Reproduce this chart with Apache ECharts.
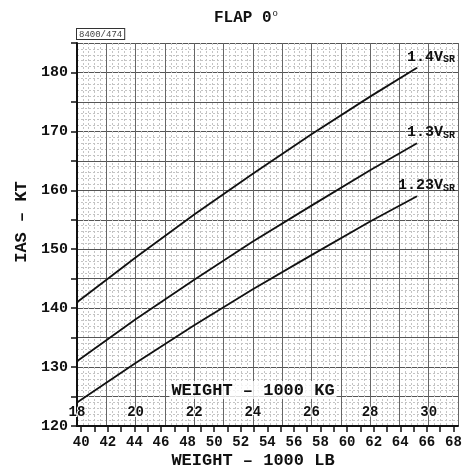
<!DOCTYPE html>
<html><head><meta charset="utf-8">
<script src="https://cdn.jsdelivr.net/npm/echarts@6/dist/echarts.min.js"></script>
<style>html,body{margin:0;padding:0;background:#fff}#c{width:465px;height:468px}</style>
</head><body><div id="c"></div>
<script>
// weight in 1000 kg
const weightKg = [18, 20, 22, 24, 26, 28, 29.6];
// IAS (kt) for each speed schedule
const ias14 = [141, 148.6, 155.9, 162.8, 169.5, 175.9, 180.8];
const ias13 = [131, 138.1, 144.8, 151.3, 157.4, 163.4, 168.0];
const ias123 = [124, 130.7, 137.1, 143.2, 149.0, 154.7, 159.0];
const seriesNames = ['1.4', '1.3', '1.23'];
const lbTicks = [40,41,42,43,44,45,46,47,48,49,50,51,52,53,54,55,56,57,58,59,60,61,62,63,64,65,66,67,68];
const lbLabels = [40,42,44,46,48,50,52,54,56,58,60,62,64,66,68];
const kgMin = 18, kgMax = 31, ktMin = 120, ktMax = 185;
const LB_PER_KG = 2.20462;

const MONO = '"Liberation Mono", "DejaVu Sans Mono", monospace';
const chart = echarts.init(document.getElementById('c'));

function mk(name, vals) {
  return {
    type: 'line', xAxisIndex: 0, yAxisIndex: 0, symbol: 'none', silent: true,
    data: weightKg.map((w, i) => [w, vals[i]]),
    lineStyle: { color: '#111', width: 1.8 },
    endLabel: {
      show: true,
      formatter: '{a|' + name + 'V}{b|SR}',
      align: 'right', offset: [30, -11],
      rich: {
        a: { fontFamily: MONO, fontWeight: 'bold', fontSize: 15, color: '#111' },
        b: { fontFamily: MONO, fontWeight: 'bold', fontSize: 10, color: '#111', verticalAlign: 'bottom', padding: [6, 0, 0, 0] }
      }
    }
  };
}

chart.setOption({
  animation: false,
  grid: { left: 77, right: 7, top: 43, bottom: 42 },
  xAxis: [
    {
      type: 'value', min: kgMin, max: kgMax, interval: 1, position: 'bottom',
      axisLine: { show: false },
      axisTick: { show: false },
      minorTick: { show: false, splitNumber: 5 },
      axisLabel: {
        inside: true, margin: 7,
        formatter: v => (v % 2 === 0 && v < kgMax) ? String(v) : '',
        fontFamily: MONO, fontWeight: 'bold', fontSize: 14, color: '#111',
        textBorderColor: '#fff', textBorderWidth: 2
      },
      splitLine: { show: true, lineStyle: { color: '#666', width: 1 } },
      minorSplitLine: { show: true, lineStyle: { color: '#c4c4c4', width: 1, type: [2, 2] } }
    },
    {
      type: 'value', min: kgMin * LB_PER_KG, max: kgMax * LB_PER_KG, position: 'bottom',
      axisLine: { show: true, onZero: false, lineStyle: { color: '#111', width: 2 } },
      axisTick: { show: true, length: 6, customValues: lbTicks, lineStyle: { color: '#111', width: 1.5 } },
      axisLabel: {
        customValues: lbLabels, margin: 9,
        fontFamily: MONO, fontWeight: 'bold', fontSize: 14, color: '#111'
      },
      splitLine: { show: false }
    }
  ],
  yAxis: {
    type: 'value', min: ktMin, max: ktMax, interval: 5,
    axisLine: { show: true, onZero: false, lineStyle: { color: '#111', width: 2 } },
    axisTick: { show: true, length: 6, lineStyle: { color: '#111', width: 1.5 } },
    minorTick: { show: false, splitNumber: 5 },
    axisLabel: {
      margin: 9,
      formatter: v => (v % 10 === 0) ? String(v) : '',
      fontFamily: MONO, fontWeight: 'bold', fontSize: 15, color: '#111'
    },
    splitLine: { show: true, lineStyle: { color: '#555', width: 1 } },
    minorSplitLine: { show: true, lineStyle: { color: '#c4c4c4', width: 1, type: [2, 2] } }
  },
  series: [mk(seriesNames[0], ias14), mk(seriesNames[1], ias13), mk(seriesNames[2], ias123)],
  graphic: [
    {
      type: 'text', x: 246, y: 18, silent: true,
      style: {
        text: '{a|FLAP 0}{b|o}',
        align: 'center', verticalAlign: 'middle',
        rich: {
          a: { fontFamily: MONO, fontWeight: 'bold', fontSize: 16, fill: '#111' },
          b: { fontFamily: MONO, fontSize: 9, fill: '#111', verticalAlign: 'top', padding: [0, 0, 8, 1] }
        }
      }
    },
    {
      type: 'text', x: 77, y: 29, silent: true, z: 100,
      style: {
        text: '8400/474', fontFamily: MONO, fontSize: 9, fill: '#444',
        backgroundColor: '#fff', borderColor: '#333', borderWidth: 1, padding: [1, 2, 0, 2]
      }
    },
    {
      type: 'text', x: 253, y: 390, silent: true, z: 100,
      style: {
        text: '{t|WEIGHT – 1000 KG}',
        align: 'center', verticalAlign: 'middle',
        rich: {
          t: { fontFamily: MONO, fontWeight: 'bold', fontSize: 17, fill: '#111',
               backgroundColor: 'rgba(255,255,255,0.8)', padding: [1, 2, 0, 2] }
        }
      }
    },
    {
      type: 'text', x: 253, y: 461, silent: true,
      style: {
        text: 'WEIGHT – 1000 LB', fontFamily: MONO, fontWeight: 'bold', fontSize: 17, fill: '#111',
        align: 'center', verticalAlign: 'middle'
      }
    },
    {
      type: 'text', x: 22, y: 222, rotation: Math.PI / 2, silent: true,
      style: {
        text: 'IAS – KT', fontFamily: MONO, fontWeight: 'bold', fontSize: 17, fill: '#111',
        align: 'center', verticalAlign: 'middle'
      }
    }
  ]
});
</script></body></html>
